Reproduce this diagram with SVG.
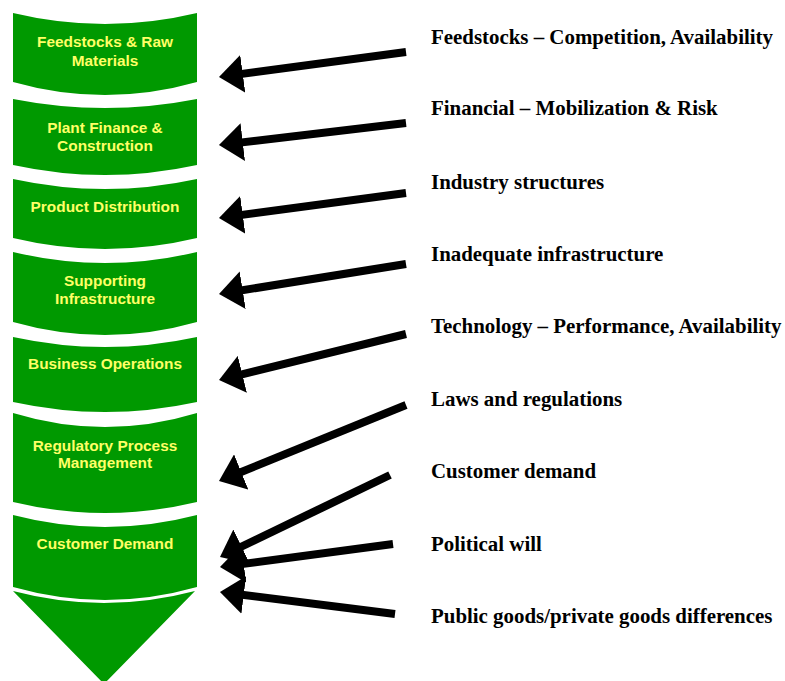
<svg xmlns="http://www.w3.org/2000/svg" width="785" height="681" viewBox="0 0 785 681">
  <style>
    .seg { fill: #009900; }
    .lbl { font-family: "Liberation Sans", Arial, sans-serif; font-weight: bold; font-size: 15.4px; fill: #FFFF66; text-anchor: middle; }
    .cause { font-family: "Liberation Serif", "Times New Roman", serif; font-weight: bold; font-size: 20.9px; fill: #000000; }
    .arrow { stroke: #000000; stroke-width: 8; fill: none; marker-end: url(#head); }
  </style>
  <defs>
    <marker id="head" markerUnits="userSpaceOnUse" markerWidth="24" markerHeight="38" viewBox="0 0 24 38" refX="16" refY="19" orient="auto">
      <path d="M0,0 L24,19 L0,38 Z" fill="#000000"/>
    </marker>
  </defs>
  <rect width="785" height="681" fill="#FFFFFF"/>

  <!-- stacked value-chain segments -->
  <g id="feedstocks">
    <path class="seg" d="M13,13 Q105,35 197,13 L197,82 Q105,108 13,82 Z"/>
    <text class="lbl" x="105" y="47">Feedstocks &amp; Raw</text>
    <text class="lbl" x="105" y="66">Materials</text>
  </g>
  <g id="plant-finance">
    <path class="seg" d="M13,99 Q105,117 197,99 L197,165 Q105,185 13,165 Z"/>
    <text class="lbl" x="105" y="133">Plant Finance &amp;</text>
    <text class="lbl" x="105" y="151">Construction</text>
  </g>
  <g id="product-distribution">
    <path class="seg" d="M13,179 Q105,199 197,179 L197,238 Q105,260 13,238 Z"/>
    <text class="lbl" x="105" y="212">Product Distribution</text>
  </g>
  <g id="supporting-infrastructure">
    <path class="seg" d="M13,252 Q105,274 197,252 L197,322 Q105,348 13,322 Z"/>
    <text class="lbl" x="105" y="286">Supporting</text>
    <text class="lbl" x="105" y="304">Infrastructure</text>
  </g>
  <g id="business-operations">
    <path class="seg" d="M13,337 Q105,357 197,337 L197,402 Q105,422 13,402 Z"/>
    <text class="lbl" x="105" y="369">Business Operations</text>
  </g>
  <g id="regulatory-process">
    <path class="seg" d="M13,413 Q105,441 197,413 L197,502 Q105,524 13,502 Z"/>
    <text class="lbl" x="105" y="451">Regulatory Process</text>
    <text class="lbl" x="105" y="468">Management</text>
  </g>
  <g id="customer-demand">
    <path class="seg" d="M13,515 Q105,539 197,515 L197,587 Q105,613 13,587 Z"/>
    <text class="lbl" x="105" y="549">Customer Demand</text>
  </g>
  <g id="funnel-tip">
    <path class="seg" d="M13,591 Q104,615 195,591 L104,684 Z"/>
  </g>

  <!-- barrier labels -->
  <g id="barriers">
    <text class="cause" x="431" y="44">Feedstocks – Competition, Availability</text>
    <text class="cause" x="431" y="115">Financial – Mobilization &amp; Risk</text>
    <text class="cause" x="431" y="189">Industry structures</text>
    <text class="cause" x="431" y="261">Inadequate infrastructure</text>
    <text class="cause" x="431" y="333">Technology – Performance, Availability</text>
    <text class="cause" x="431" y="406">Laws and regulations</text>
    <text class="cause" x="431" y="478">Customer demand</text>
    <text class="cause" x="431" y="551">Political will</text>
    <text class="cause" x="431" y="623">Public goods/private goods differences</text>
  </g>

  <!-- connectors -->
  <g id="connectors">
    <line class="arrow" x1="406" y1="52" x2="226.9" y2="75.9"/>
    <line class="arrow" x1="406" y1="123" x2="226.9" y2="144.1"/>
    <line class="arrow" x1="406" y1="193" x2="226.9" y2="216.9"/>
    <line class="arrow" x1="406" y1="264" x2="226.9" y2="292.7"/>
    <line class="arrow" x1="406" y1="334" x2="226.8" y2="378.1"/>
    <line class="arrow" x1="406" y1="405" x2="226.4" y2="478.0"/>
    <line class="arrow" x1="390" y1="475" x2="227.2" y2="553.5"/>
    <line class="arrow" x1="393" y1="544" x2="227.9" y2="565.9"/>
    <line class="arrow" x1="395" y1="614" x2="227.9" y2="593.0"/>
  </g>
</svg>
